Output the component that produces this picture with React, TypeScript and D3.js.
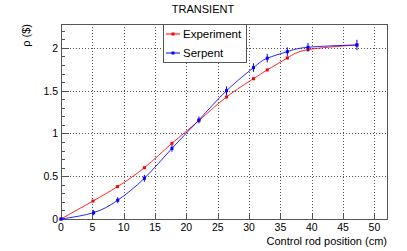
import React, { useRef, useEffect } from 'react';
import * as d3 from 'd3';

// Control rod position (cm)
const expX = [0, 5.1, 9.0, 13.3, 17.7, 22.0, 26.4, 30.7, 32.9, 36.1, 39.4, 47.2];
const expY = [0, 0.21, 0.378, 0.60, 0.885, 1.15, 1.427, 1.64, 1.743, 1.883, 1.98, 2.035];
const expErr = [0.005, 0.01, 0.01, 0.012, 0.012, 0.015, 0.015, 0.015, 0.015, 0.015, 0.015, 0.02];

const serX = [0, 5.2, 9.05, 13.3, 17.7, 22.0, 26.4, 30.7, 32.9, 36.1, 39.4, 47.2];
const serY = [0, 0.074, 0.22, 0.476, 0.826, 1.158, 1.50, 1.77, 1.88, 1.957, 2.008, 2.035];
const serErr = [0.01, 0.03, 0.035, 0.04, 0.04, 0.04, 0.05, 0.05, 0.05, 0.05, 0.05, 0.06];

const xTicks = [0, 5, 10, 15, 20, 25, 30, 35, 40, 45, 50];
const yTicks = [0, 0.5, 1, 1.5, 2];

const App = () => {
  const svgRef = useRef(null);

  useEffect(() => {
    const width = 407;
    const height = 251;
    const left = 61, right = 387, top = 24, bottom = 219;
    const font = 'Liberation Sans, Arial, sans-serif';

    const svg = d3.select(svgRef.current)
      .attr('width', width)
      .attr('height', height);
    svg.selectAll('*').remove();

    const x = d3.scaleLinear().domain([0, 52]).range([left, right]);
    const y = d3.scaleLinear().domain([0, 2.28]).range([bottom, top]);

    svg.append('rect').attr('width', width).attr('height', height).attr('fill', 'white');

    // grid
    const grid = svg.append('g')
      .attr('stroke', '#555')
      .attr('stroke-width', 1)
      .attr('stroke-dasharray', '1,2');
    xTicks.filter(t => t > 0).forEach(t => {
      grid.append('line')
        .attr('x1', Math.round(x(t)) + 0.5).attr('x2', Math.round(x(t)) + 0.5)
        .attr('y1', top).attr('y2', bottom);
    });
    yTicks.filter(t => t > 0).forEach(t => {
      grid.append('line')
        .attr('x1', left).attr('x2', right)
        .attr('y1', Math.round(y(t)) + 0.5).attr('y2', Math.round(y(t)) + 0.5);
    });

    // frame
    svg.append('rect')
      .attr('x', left + 0.5).attr('y', top + 0.5)
      .attr('width', right - left).attr('height', bottom - top)
      .attr('fill', 'none')
      .attr('stroke', '#555');

    // ticks
    const ticks = svg.append('g').attr('stroke', '#555');
    xTicks.forEach(t => {
      const px = Math.round(x(t)) + 0.5;
      ticks.append('line').attr('x1', px).attr('x2', px).attr('y1', bottom).attr('y2', bottom - 6);
    });
    d3.range(0, 2.21, 0.1).forEach((t, i) => {
      const py = Math.round(y(t)) + 0.5;
      const len = i % 5 === 0 ? 8 : 4;
      ticks.append('line').attr('x1', left).attr('x2', left + len).attr('y1', py).attr('y2', py);
    });

    // tick labels
    svg.append('g')
      .selectAll('text')
      .data(xTicks)
      .enter()
      .append('text')
      .attr('x', d => x(d))
      .attr('y', bottom + 12)
      .attr('text-anchor', 'middle')
      .style('font-family', font)
      .style('font-size', '10.5px')
      .text(d => d);

    svg.append('g')
      .selectAll('text')
      .data(yTicks)
      .enter()
      .append('text')
      .attr('x', left - 3)
      .attr('y', d => y(d) + 4)
      .attr('text-anchor', 'end')
      .style('font-family', font)
      .style('font-size', '10.5px')
      .text(d => d);

    // axis titles
    svg.append('text')
      .attr('x', right)
      .attr('y', 245)
      .attr('text-anchor', 'end')
      .style('font-family', font)
      .style('font-size', '11px')
      .text('Control rod position (cm)');

    svg.append('text')
      .attr('transform', `translate(30,${top}) rotate(-90)`)
      .attr('text-anchor', 'end')
      .style('font-family', font)
      .style('font-size', '11px')
      .text('ρ ($)');

    svg.append('text')
      .attr('x', 203)
      .attr('y', 13)
      .attr('text-anchor', 'middle')
      .style('font-family', font)
      .style('font-size', '11px')
      .text('TRANSIENT');

    // series
    const series = [
      { name: 'Experiment', xs: expX, ys: expY, errs: expErr, color: '#ff0000' },
      { name: 'Serpent', xs: serX, ys: serY, errs: serErr, color: '#0000ff' }
    ];

    const line = d3.line()
      .x(d => x(d[0]))
      .y(d => y(d[1]))
      .curve(d3.curveNatural);

    series.forEach(s => {
      const pts = s.xs.map((v, i) => [v, s.ys[i]]);
      svg.append('path')
        .attr('d', line(pts))
        .attr('fill', 'none')
        .attr('stroke', s.color)
        .attr('stroke-width', 1)
        .attr('opacity', 0.85);

      const g = svg.append('g');
      pts.forEach((p, i) => {
        g.append('line')
          .attr('x1', x(p[0])).attr('x2', x(p[0]))
          .attr('y1', y(p[1] - s.errs[i])).attr('y2', y(p[1] + s.errs[i]))
          .attr('stroke', s.color)
          .attr('stroke-width', 1);
        g.append('rect')
          .attr('x', x(p[0]) - 1.5).attr('y', y(p[1]) - 1.5)
          .attr('width', 3).attr('height', 3)
          .attr('fill', s.color);
      });
    });

    // legend
    const lg = svg.append('g');
    lg.append('rect')
      .attr('x', 163.5).attr('y', top + 0.5)
      .attr('width', 83).attr('height', 38)
      .attr('fill', 'white')
      .attr('stroke', '#555');
    series.forEach((s, i) => {
      const ly = 34 + i * 19;
      lg.append('line')
        .attr('x1', 166).attr('x2', 180).attr('y1', ly).attr('y2', ly)
        .attr('stroke', s.color);
      lg.append('rect')
        .attr('x', 171.5).attr('y', ly - 1.5).attr('width', 3).attr('height', 3)
        .attr('fill', s.color);
      lg.append('text')
        .attr('x', 183)
        .attr('y', ly + 4)
        .style('font-family', font)
        .style('font-size', '11.5px')
        .text(s.name);
    });
  }, []);

  return <svg ref={svgRef} style={{ position: 'absolute', left: 0, top: 0 }}></svg>;
};

export default App;
